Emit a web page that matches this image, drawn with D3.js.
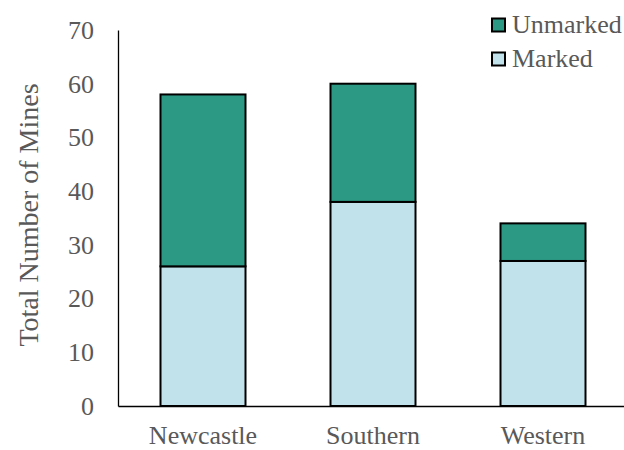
<!DOCTYPE html>
<html><head><meta charset="utf-8">
<script src="https://cdn.jsdelivr.net/npm/d3@7"></script>
<style>
body{margin:0;background:#fff}svg{display:block}
</style>
</head><body>
<svg id="chart" width="624" height="450"></svg>
<script>
const categories = ["Newcastle", "Southern", "Western"];
const marked = [26, 38, 27];
const unmarked = [32, 22, 7];
const seriesNames = ["Marked", "Unmarked"];
const yTicks = [0, 10, 20, 30, 40, 50, 60, 70];

const colors = {Marked: "#C1E2EA", Unmarked: "#2C9985"};
const textColor = "#595959";
const font = "Liberation Serif, Times New Roman, serif";

const svg = d3.select("#chart");
const x = d3.scaleBand().domain(categories).range([118, 628]).paddingInner(0.5).paddingOuter(0.25);
const y = d3.scaleLinear().domain([0, 70]).range([406, 30]);

const rows = categories.map((c, i) => ({cat: c, Marked: marked[i], Unmarked: unmarked[i]}));
const stacked = d3.stack().keys(seriesNames)(rows);

svg.append("g").selectAll("g").data(stacked).join("g")
  .attr("fill", d => colors[d.key])
  .selectAll("rect").data(d => d).join("rect")
  .attr("x", d => x(d.data.cat))
  .attr("y", d => y(d[1]))
  .attr("width", x.bandwidth())
  .attr("height", d => y(d[0]) - y(d[1]))
  .attr("stroke", "#000").attr("stroke-width", 2);

// axes
const yAxis = svg.append("g").attr("transform", "translate(118,0)")
  .call(d3.axisLeft(y).tickValues(yTicks).tickSize(0).tickPadding(24));
yAxis.attr("font-family", font).attr("font-size", 26);
yAxis.select(".domain").attr("stroke", "#000").attr("stroke-width", 1.3);
yAxis.selectAll("text").attr("fill", textColor);

const xAxis = svg.append("g").attr("transform", "translate(0,406)")
  .call(d3.axisBottom(x).tickSize(0).tickPadding(20));
xAxis.attr("font-family", font).attr("font-size", 26);
xAxis.select(".domain").attr("stroke", "#000").attr("stroke-width", 1.3);
xAxis.selectAll("text").attr("fill", textColor);

svg.append("text")
  .attr("transform", "translate(38,215) rotate(-90)")
  .attr("text-anchor", "middle")
  .attr("font-family", font).attr("font-size", 28).attr("fill", textColor)
  .text("Total Number of Mines");

// legend
const legendItems = ["Unmarked", "Marked"];
const lg = svg.append("g").selectAll("g").data(legendItems).join("g")
  .attr("transform", (d, i) => `translate(492,${18.5 + i * 34})`);
lg.append("rect").attr("width", 13).attr("height", 13)
  .attr("fill", d => colors[d]).attr("stroke", "#000").attr("stroke-width", 2);
lg.append("text").attr("x", 20).attr("y", 14.5)
  .attr("font-family", font).attr("font-size", 26).attr("fill", textColor)
  .text(d => d);
</script>
</body></html>
